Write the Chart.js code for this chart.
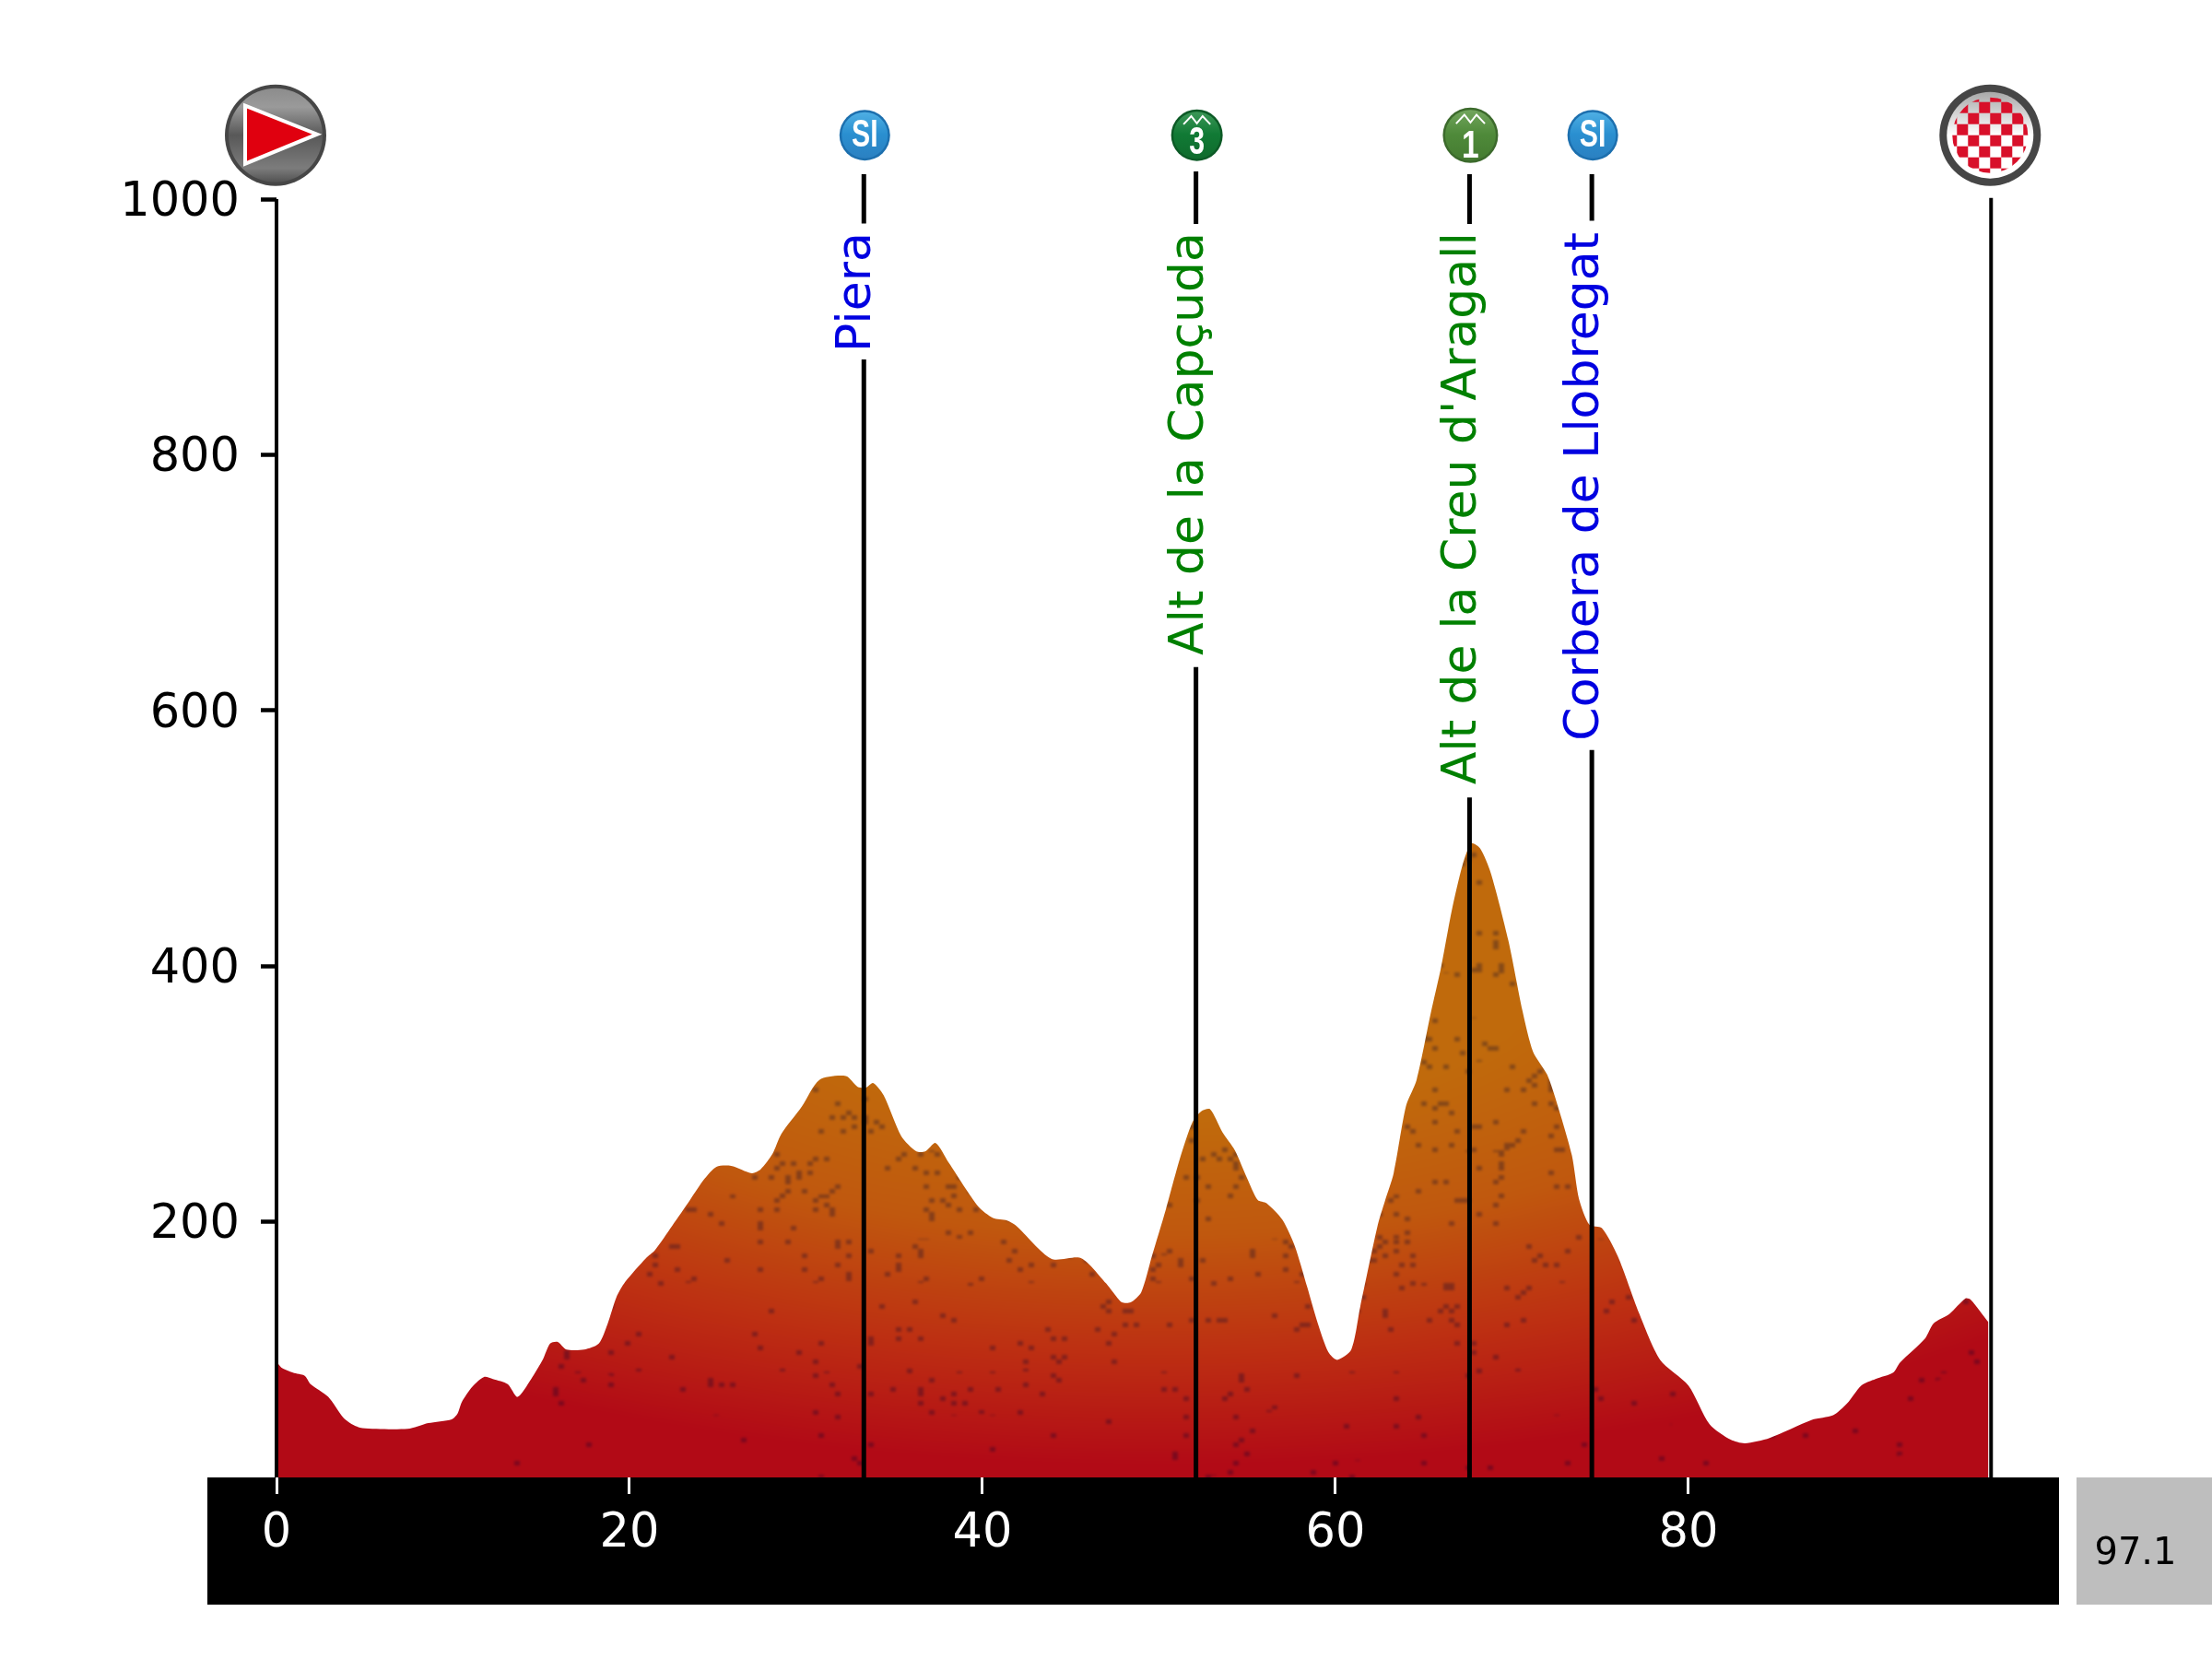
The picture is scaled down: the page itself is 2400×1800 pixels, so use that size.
<!DOCTYPE html>
<html>
<head>
<meta charset="utf-8">
<title>Profile</title>
<script src="https://cdn.jsdelivr.net/npm/chart.js@4"></script>
<style>
    html, body { margin: 0; padding: 0; background: #fff; }
    canvas { display: block; }
</style>
</head>
<body>
<canvas id="chart" width="2400" height="1800"></canvas>
<script>
// profile of the stage
const profileKm = [0, 0.27, 0.93, 1.6, 1.93, 2.93, 3.77, 4.27, 4.87, 7.43, 8.6, 9.93, 10.26, 10.5, 11.1, 11.76, 12.26, 13.1, 13.66, 14.43, 15.1, 15.5, 15.93, 16.43, 17.43, 18.26, 18.76, 19.26, 19.76, 20.93, 21.43, 22.43, 23.43, 24.26, 24.93, 25.76, 26.93, 27.43, 28.1, 28.6, 29.76, 30.76, 32.26, 32.93, 33.4, 33.8, 34.4, 35.4, 36.26, 36.76, 37.35, 38.1, 39.76, 40.6, 41.4, 41.9, 43.9, 45.6, 47, 47.4, 47.9, 48.4, 49, 49.6, 50.4, 51.2, 51.9, 52.4, 52.9, 53.6, 54.3, 55, 55.6, 56.1, 57, 57.7, 58.4, 59, 59.6, 60.1, 60.9, 61.4, 62.4, 62.8, 63.3, 64, 64.6, 65.4, 66, 66.6, 67.2, 67.7, 68.2, 68.8, 69.8, 70.6, 71.2, 72, 72.6, 73.4, 73.8, 74.4, 75.1, 76, 77.2, 78.4, 80, 81.2, 82.4, 83.2, 84.6, 87, 88.2, 89, 89.8, 90.6, 91.6, 92, 93.4, 93.9, 94.8, 95.7, 96, 97];
const profileElevation = [91, 86, 82, 79.5, 73, 63, 47, 41.6, 38.5, 38, 42.5, 45.5, 50, 59, 71, 78.6, 77, 73, 63, 77, 92.5, 104.7, 106, 100, 100, 104.7, 120, 141, 153, 171.5, 177.5, 197, 217, 233.7, 243, 243.7, 238, 241, 253, 268.6, 290, 311, 314, 305.6, 305, 308.6, 299, 267, 255, 255, 261.6, 246, 212, 203, 201, 197, 171, 171.5, 152, 145, 137, 137, 145, 173, 210, 250, 278, 286.5, 288, 270, 256, 234, 217, 214.5, 201.5, 181, 149, 120.6, 98, 92, 100, 133, 197.5, 216, 238, 290.6, 311, 363, 400, 444, 479, 496, 492, 473, 420, 365, 333, 315, 290.6, 252, 218, 197.5, 195, 173, 128.7, 92, 72, 41.7, 29.5, 26.7, 30.8, 45, 48.6, 58, 72, 77, 82, 90, 108.5, 120.6, 128, 140, 139, 121.4];

// passages along the route
const stopNames = ['Piera', 'Alt de la Capçuda', "Alt de la Creu d'Aragall", 'Corbera de Llobregat'];
const stopKm = [33.28, 52.1, 67.6, 74.53];
const stopColors = ['#0000e0', '#008000', '#008000', '#0000e0'];
const stopIcons = ['sprint', 'cat3', 'cat1', 'sprint'];
const stopLineTop = [874.6, 634, 532, 569];      // lower stretch of the line ends here
const stopUpperBottom = [981, 980.5, 980.5, 983];
const stopUpperTop = [1019.5, 1021.6, 1019.5, 1019.5];
const stopLabelTop = [974, 974, 974, 974];

const startKm = 0;
const finishKm = 97.15;
const distanceLabel = '97.1';

const yTicks = [200, 400, 600, 800, 1000];
const xTicks = [0, 20, 40, 60, 80];

const FONT = '"DejaVu Sans"';
const ICON_ELEVATION = 1050;

/**
 * Rock texture of the profile: orange in the middle, red towards the rim, dark flecks
 */
function makeTexture(chart) {
    const w = chart.width, h = chart.height;
    const off = document.createElement('canvas');
    off.width = w;
    off.height = h;
    const octx = off.getContext('2d');
    const img = octx.createImageData(w, h);
    const cx = chart.scales.x.getPixelForValue(50);
    const cy = chart.scales.y.getPixelForValue(400);
    const stops = [
        [0.4, 192, 106, 12],
        [0.7, 192, 88, 14],
        [1.0, 189, 48, 18],
        [1.3, 178, 10, 22]
    ];
    const grain = (a, b) => {
        const s = Math.sin(a * 12.9898 + b * 78.233) * 43758.5453;
        return s - Math.floor(s);
    };
    for (let y = 600; y < h; y++) {
        for (let x = 0; x < w; x++) {
            const d = Math.hypot((x - cx) / 1041, (y - cy) / 416);
            let c = stops[stops.length - 1];
            if (d <= stops[0][0]) {
                c = stops[0];
            } else if (d < 1.3) {
                const i = stops.findIndex(s => s[0] >= d);
                const t = (d - stops[i - 1][0]) / (stops[i][0] - stops[i - 1][0]);
                c = [0, 1, 2, 3].map(k => stops[i - 1][k] + (stops[i][k] - stops[i - 1][k]) * t);
            }
            // flecks gather in patches, and only where the rock is not fully red
            const patch = grain(Math.floor(x / 48), Math.floor(y / 48));
            const fleck = grain(Math.floor(x / 6), Math.floor(y / 5));
            let shade = 1;
            if (fleck < patch * patch * 0.2 * Math.max(0, 1.5 - d)) shade = 0.7;
            const p = (y * w + x) * 4;
            img.data[p] = c[1] * shade;
            img.data[p + 1] = c[2] * shade;
            img.data[p + 2] = c[3] * shade + (shade < 1 ? 14 : 0);
            img.data[p + 3] = 255;
        }
    }
    octx.putImageData(img, 0, 0);
    // soften the flecks
    octx.filter = 'blur(1.4px)';
    octx.drawImage(off, 0, 0);
    octx.filter = 'none';
    return chart.ctx.createPattern(off, 'no-repeat');
}

let texture = null;
function profileFill(context) {
    const chart = context.chart;
    if (!chart.chartArea) return '#bf5a0e';
    if (!texture) texture = makeTexture(chart);
    return texture;
}

function glossyDisc(ctx, x, y, r, rim, top, mid, bottom) {
    ctx.beginPath();
    ctx.arc(x, y, r, 0, Math.PI * 2);
    ctx.fillStyle = rim;
    ctx.fill();
    const g = ctx.createLinearGradient(0, y - r, 0, y + r);
    g.addColorStop(0, top);
    g.addColorStop(0.48, mid);
    g.addColorStop(1, bottom);
    ctx.beginPath();
    ctx.arc(x, y, r - 2.5, 0, Math.PI * 2);
    ctx.fillStyle = g;
    ctx.fill();
}

function narrowText(ctx, text, x, y, size, squeeze) {
    ctx.save();
    ctx.translate(x, y);
    ctx.scale(squeeze, 1);
    ctx.font = 'bold ' + size + 'px "Liberation Sans", ' + FONT;
    ctx.fillStyle = '#fff';
    ctx.textAlign = 'center';
    ctx.textBaseline = 'middle';
    ctx.fillText(text, 0, 0);
    ctx.restore();
}

function drawMountain(ctx, x, y, r) {
    ctx.beginPath();
    ctx.moveTo(x - r * 0.52, y - r * 0.42);
    ctx.lineTo(x - r * 0.22, y - r * 0.74);
    ctx.lineTo(x, y - r * 0.46);
    ctx.lineTo(x + r * 0.22, y - r * 0.74);
    ctx.lineTo(x + r * 0.52, y - r * 0.42);
    ctx.strokeStyle = '#fff';
    ctx.lineWidth = 2;
    ctx.stroke();
}

function drawStartIcon(ctx, x, y) {
    ctx.beginPath();
    ctx.arc(x, y, 55, 0, Math.PI * 2);
    ctx.fillStyle = '#464646';
    ctx.fill();
    const g = ctx.createLinearGradient(0, y - 51, 0, y + 51);
    g.addColorStop(0, '#8c8c8c');
    g.addColorStop(0.2, '#9a9a9a');
    g.addColorStop(0.5, '#585858');
    g.addColorStop(0.85, '#7c7c7c');
    g.addColorStop(1, '#525252');
    ctx.beginPath();
    ctx.arc(x, y, 51, 0, Math.PI * 2);
    ctx.fillStyle = g;
    ctx.fill();
    ctx.beginPath();
    ctx.moveTo(x - 33, y - 32);
    ctx.lineTo(x + 45, y - 1);
    ctx.lineTo(x - 33, y + 31);
    ctx.closePath();
    ctx.fillStyle = '#e0000f';
    ctx.fill();
    ctx.strokeStyle = '#fff';
    ctx.lineWidth = 4;
    ctx.stroke();
}

function drawFinishIcon(ctx, x, y) {
    ctx.beginPath();
    ctx.arc(x, y, 55, 0, Math.PI * 2);
    ctx.fillStyle = '#464646';
    ctx.fill();
    const g = ctx.createLinearGradient(0, y - 47, 0, y + 47);
    g.addColorStop(0, '#a8a8a8');
    g.addColorStop(0.5, '#ffffff');
    g.addColorStop(1, '#ffffff');
    ctx.beginPath();
    ctx.arc(x, y, 47, 0, Math.PI * 2);
    ctx.fillStyle = g;
    ctx.fill();
    ctx.save();
    ctx.beginPath();
    ctx.arc(x, y, 41, 0, Math.PI * 2);
    ctx.clip();
    const cell = 12;
    ctx.fillStyle = '#d8102a';
    for (let i = -4; i < 4; i++) {
        for (let j = -4; j < 4; j++) {
            if ((i + j + 8) % 2 === 0) {
                ctx.fillRect(x + i * cell, y + j * cell, cell, cell);
            }
        }
    }
    ctx.restore();
}

function drawStopIcon(ctx, kind, x, y) {
    if (kind === 'sprint') {
        glossyDisc(ctx, x, y, 27.5, '#1c6fae', '#52b2e6', '#2a8fd0', '#2b7fc0');
        narrowText(ctx, 'SI', x, y + 1, 42, 0.72);
    } else if (kind === 'cat3') {
        glossyDisc(ctx, x, y, 28, '#0c5a26', '#3f9a5a', '#117a35', '#0f6a2c');
        drawMountain(ctx, x, y, 28);
        narrowText(ctx, '3', x, y + 9, 42, 0.72);
    } else {
        glossyDisc(ctx, x, y, 30, '#3c6a2c', '#75a860', '#4f8a3a', '#447a30');
        drawMountain(ctx, x, y, 30);
        narrowText(ctx, '1', x, y + 13, 42, 0.8);
    }
}

// black band under the profile and the grey distance box
const bandPlugin = {
    id: 'band',
    beforeDraw(chart) {
        const { ctx } = chart;
        const { x, y } = chart.scales;
        const bandTop = y.getPixelForValue(0);
        ctx.save();
        ctx.fillStyle = '#fff';
        ctx.fillRect(0, 0, chart.width, chart.height);
        ctx.fillStyle = '#000';
        ctx.fillRect(225, bandTop, x.right - 225, 138);
        ctx.fillStyle = '#bebebe';
        ctx.fillRect(x.right + 19, bandTop, chart.width - x.right - 19, 138);
        ctx.fillStyle = '#000';
        ctx.font = '40px ' + FONT;
        ctx.textAlign = 'center';
        ctx.textBaseline = 'middle';
        ctx.fillText(distanceLabel, x.right + 83, bandTop + 84);
        ctx.restore();
    }
};

// names and badges of the passages
const stopsPlugin = {
    id: 'stops',
    afterDatasetsDraw(chart) {
        const { ctx } = chart;
        const { x, y } = chart.scales;
        const iconY = y.getPixelForValue(ICON_ELEVATION);
        ctx.save();
        stopNames.forEach((name, i) => {
            const px = x.getPixelForValue(stopKm[i]);
            ctx.save();
            ctx.translate(px + 7, y.getPixelForValue(stopLabelTop[i]));
            ctx.rotate(-Math.PI / 2);
            ctx.font = '52px ' + FONT;
            ctx.fillStyle = stopColors[i];
            ctx.textAlign = 'right';
            ctx.textBaseline = 'alphabetic';
            ctx.fillText(name, 0, 0);
            ctx.restore();
            drawStopIcon(ctx, stopIcons[i], px + 1, iconY);
        });
        drawStartIcon(ctx, x.getPixelForValue(startKm) - 1, iconY);
        drawFinishIcon(ctx, x.getPixelForValue(finishKm) - 1, iconY);
        ctx.restore();
    }
};

// one black line per passage, broken around its name
const stopLines = stopKm.map((km, i) => ({
    type: 'line',
    data: [
        { x: km, y: 0 },
        { x: km, y: stopLineTop[i] },
        { x: km, y: null },
        { x: km, y: stopUpperBottom[i] },
        { x: km, y: stopUpperTop[i] }
    ],
    borderColor: '#000',
    borderWidth: 5,
    pointRadius: 0,
    spanGaps: false,
    clip: false,
    order: 1
}));

const edgeLines = [[startKm, 1000], [finishKm, 1001]].map(([km, top]) => ({
    type: 'line',
    data: [{ x: km, y: 0 }, { x: km, y: top }],
    borderColor: '#000',
    borderWidth: 4,
    pointRadius: 0,
    clip: false,
    order: 1
}));

const profile = {
    type: 'line',
    data: profileKm.map((km, i) => ({ x: km, y: profileElevation[i] })),
    borderWidth: 0,
    pointRadius: 0,
    tension: 0.25,
    fill: 'origin',
    backgroundColor: profileFill,
    order: 2
};

new Chart(document.getElementById('chart'), {
    type: 'line',
    data: {
        datasets: [...stopLines, ...edgeLines, profile]
    },
    options: {
        responsive: false,
        devicePixelRatio: 1,
        animation: false,
        layout: {
            padding: { top: 8, right: 166, left: 0, bottom: 0 }
        },
        plugins: {
            legend: { display: false },
            tooltip: { enabled: false }
        },
        scales: {
            x: {
                type: 'linear',
                min: 0,
                max: 101,
                afterBuildTicks(axis) {
                    axis.ticks = xTicks.map(value => ({ value: value }));
                },
                afterFit(axis) {
                    axis.height = 197;
                },
                ticks: {
                    color: '#fff',
                    maxRotation: 0,
                    padding: 13,
                    font: { family: FONT, size: 51 }
                },
                grid: {
                    drawOnChartArea: false,
                    tickColor: '#fff',
                    tickLength: 18,
                    tickWidth: 3
                },
                border: { display: false }
            },
            y: {
                type: 'linear',
                min: 0,
                max: 1150,
                afterBuildTicks(axis) {
                    axis.ticks = yTicks.map(value => ({ value: value }));
                },
                afterFit(axis) {
                    axis.width = 300;
                    axis.paddingTop = 0;
                    axis.paddingBottom = 0;
                },
                ticks: {
                    color: '#000',
                    padding: 23,
                    // empty first line pushes the number down onto its tick
                    callback: value => ['', String(value)],
                    font: { family: FONT, size: 51, lineHeight: '9px' }
                },
                grid: {
                    drawOnChartArea: false,
                    tickColor: '#000',
                    tickLength: 17,
                    tickWidth: 4.5
                },
                border: { display: false }
            }
        }
    },
    plugins: [bandPlugin, stopsPlugin]
});
</script>
</body>
</html>
